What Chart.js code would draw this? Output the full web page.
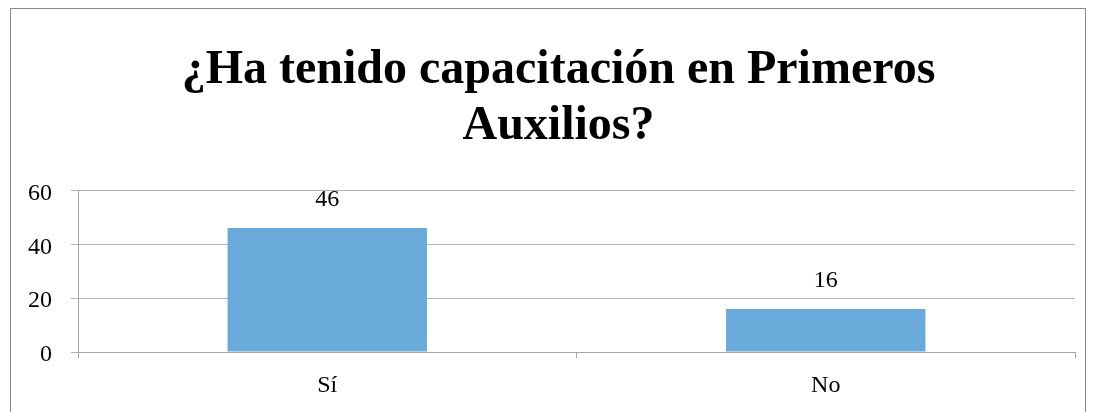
<!DOCTYPE html>
<html><head><meta charset="utf-8">
<script src="https://cdn.jsdelivr.net/npm/chart.js@4/dist/chart.umd.min.js"></script>
<style>
html,body{margin:0;padding:0;background:#fff;}
#wrap{position:relative;width:1097px;height:412px;}
#frame{position:absolute;left:10px;top:8px;width:1076px;height:420px;border:1px solid #8c8c8c;box-sizing:border-box;pointer-events:none;}
canvas{position:absolute;left:0;top:0;}
</style></head>
<body>
<div id="wrap"><canvas id="c" width="1097" height="412"></canvas><div id="frame"></div></div>
<script>
const titleLines = ["¿Ha tenido capacitación en Primeros", "Auxilios?"];
const categories = ["Sí", "No"];
const values = [46, 16];
const yTicks = [0, 20, 40, 60];

const serif = '"Liberation Serif", "Times New Roman", serif';

const valueLabels = {
  id: 'valueLabels',
  afterDatasetsDraw(chart) {
    const ctx = chart.ctx;
    ctx.save();
    ctx.font = '24px ' + serif;
    ctx.fillStyle = '#000';
    ctx.textAlign = 'center';
    ctx.textBaseline = 'middle';
    chart.getDatasetMeta(0).data.forEach((bar, i) => {
      ctx.fillText(String(values[i]), bar.x, bar.y - 28);
    });
    ctx.restore();
  }
};

const titleShift = {
  id: 'titleShift',
  afterLayout(chart) {
    const t = chart.titleBlock;
    if (t) { t.left += 21; t.right += 21; }
  }
};

new Chart(document.getElementById('c'), {
  type: 'bar',
  data: {
    labels: categories,
    datasets: [{ data: values, backgroundColor: '#6aaadb', borderWidth: 0,
      categoryPercentage: 0.8, barPercentage: 0.5 }]
  },
  options: {
    responsive: false,
    animation: false,
    layout: { padding: { left: 0, right: 22, top: 0, bottom: 0 } },
    plugins: {
      legend: { display: false },
      tooltip: { enabled: false },
      title: {
        display: true,
        text: titleLines,
        color: '#000',
        font: { family: serif, size: 48, weight: 'bold', lineHeight: 1.16 },
        padding: { top: 43, bottom: 36 }
      }
    },
    scales: {
      x: {
        grid: { offset: true, drawOnChartArea: false, drawTicks: true, tickLength: 6, color: '#a6a6a6' },
        border: { color: '#a6a6a6' },
        ticks: { color: '#000', padding: 13, font: { family: serif, size: 24 } },
        afterFit(s) { s.height = 60; }
      },
      y: {
        min: 0, max: 60,
        afterBuildTicks(s) { s.ticks = yTicks.map(v => ({ value: v })); },
        grid: { color: '#b3b3b3', drawTicks: true, tickLength: 7 },
        border: { color: '#a6a6a6' },
        ticks: { color: '#000', padding: 19, labelOffset: 3, font: { family: serif, size: 24 } },
        afterFit(s) { s.width = 78; }
      }
    }
  },
  plugins: [valueLabels, titleShift]
});
</script>
</body></html>
